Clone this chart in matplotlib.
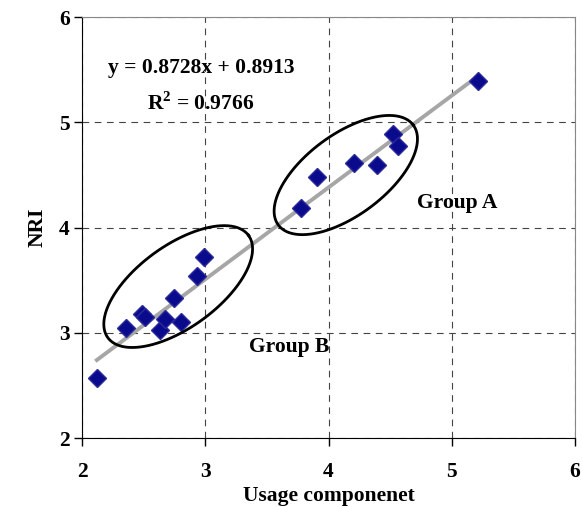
import numpy as np
import matplotlib.pyplot as plt

# usage component vs NRI
usage = [2.12, 2.36, 2.49, 2.51, 2.63, 2.67, 2.80, 2.75, 2.93, 2.99,
         3.78, 3.91, 4.21, 4.39, 4.52, 4.56, 5.21]
nri = [2.57, 3.05, 3.18, 3.15, 3.03, 3.13, 3.10, 3.33, 3.54, 3.72,
       4.19, 4.48, 4.61, 4.60, 4.89, 4.78, 5.39]
slope = 0.8728
intercept = 0.8913
r2 = 0.9766
ticks = [2, 3, 4, 5, 6]

plt.rcParams['font.family'] = 'Liberation Serif'
plt.rcParams['font.weight'] = 'bold'
plt.rcParams['mathtext.fontset'] = 'custom'
plt.rcParams['mathtext.rm'] = 'Liberation Serif:bold'
plt.rcParams['mathtext.bf'] = 'Liberation Serif:bold'

fs = 15.5

fig = plt.figure(figsize=(5.82, 5.07), dpi=100)
ax = fig.add_axes([0.141, 0.136, 0.847, 0.830])

ax.set_xlim(2, 6)
ax.set_ylim(2, 6)
ax.set_xticks(ticks)
ax.set_yticks(ticks)
ax.tick_params(direction='out', length=6, width=1, labelsize=fs)
ax.tick_params(axis='x', pad=11)
ax.tick_params(axis='y', pad=3)
for lab in ax.get_xticklabels() + ax.get_yticklabels():
    lab.set_fontweight('bold')
ax.grid(True, color='#444444', linestyle=(0, (6, 5)), linewidth=0.8)
ax.set_axisbelow(True)
for s in ['top', 'right']:
    ax.spines[s].set_color('#888888')
for s in ['left', 'bottom']:
    ax.spines[s].set_color('black')

# trend line
xl = np.array([min(usage), max(usage)])
ax.plot(xl, slope * xl + intercept, color='#a6a6a6', lw=2.8, zorder=2)

ax.plot(usage, nri, 'D', color='#0a0a8c', markeredgecolor='#2a2a9a',
        markersize=9, zorder=3)

# group ellipses, drawn in pixel-like space then mapped to data
def ellipse(cx, cy, a, b, ang):
    t = np.linspace(0, 2 * np.pi, 200)
    th = np.deg2rad(ang)
    px = a * np.cos(t) * np.cos(th) - b * np.sin(t) * np.sin(th)
    py = a * np.cos(t) * np.sin(th) + b * np.sin(t) * np.cos(th)
    # scale pixels -> data (123.25 px per x unit, 105.25 px per y unit)
    ax.plot(cx + px / 123.25, cy + py / 105.25, color='black', lw=2, zorder=4)

ellipse(2.78, 3.44, 87, 41, 36)
ellipse(4.14, 4.50, 84, 40.5, 36.5)

ax.text(0.241, 0.879, 'y = %.4fx + %.4f' % (slope, intercept),
        transform=ax.transAxes, ha='center', va='center', fontsize=fs,
        fontweight='bold')
ax.text(0.24, 0.796, '$\\mathbf{R}^{\\mathbf{2}}$ = %.4f' % r2,
        transform=ax.transAxes, ha='center', va='center', fontsize=fs,
        fontweight='bold')
ax.text(5.04, 4.23, 'Group A', ha='center', va='center', fontsize=fs,
        fontweight='bold')
ax.text(3.68, 2.87, 'Group B', ha='center', va='center', fontsize=fs,
        fontweight='bold')

ax.set_xlabel('Usage componenet', fontsize=fs, fontweight='bold', labelpad=3)
ax.set_ylabel('NRI', fontsize=fs, fontweight='bold', labelpad=8)

fig.savefig('out.png', dpi=100)
